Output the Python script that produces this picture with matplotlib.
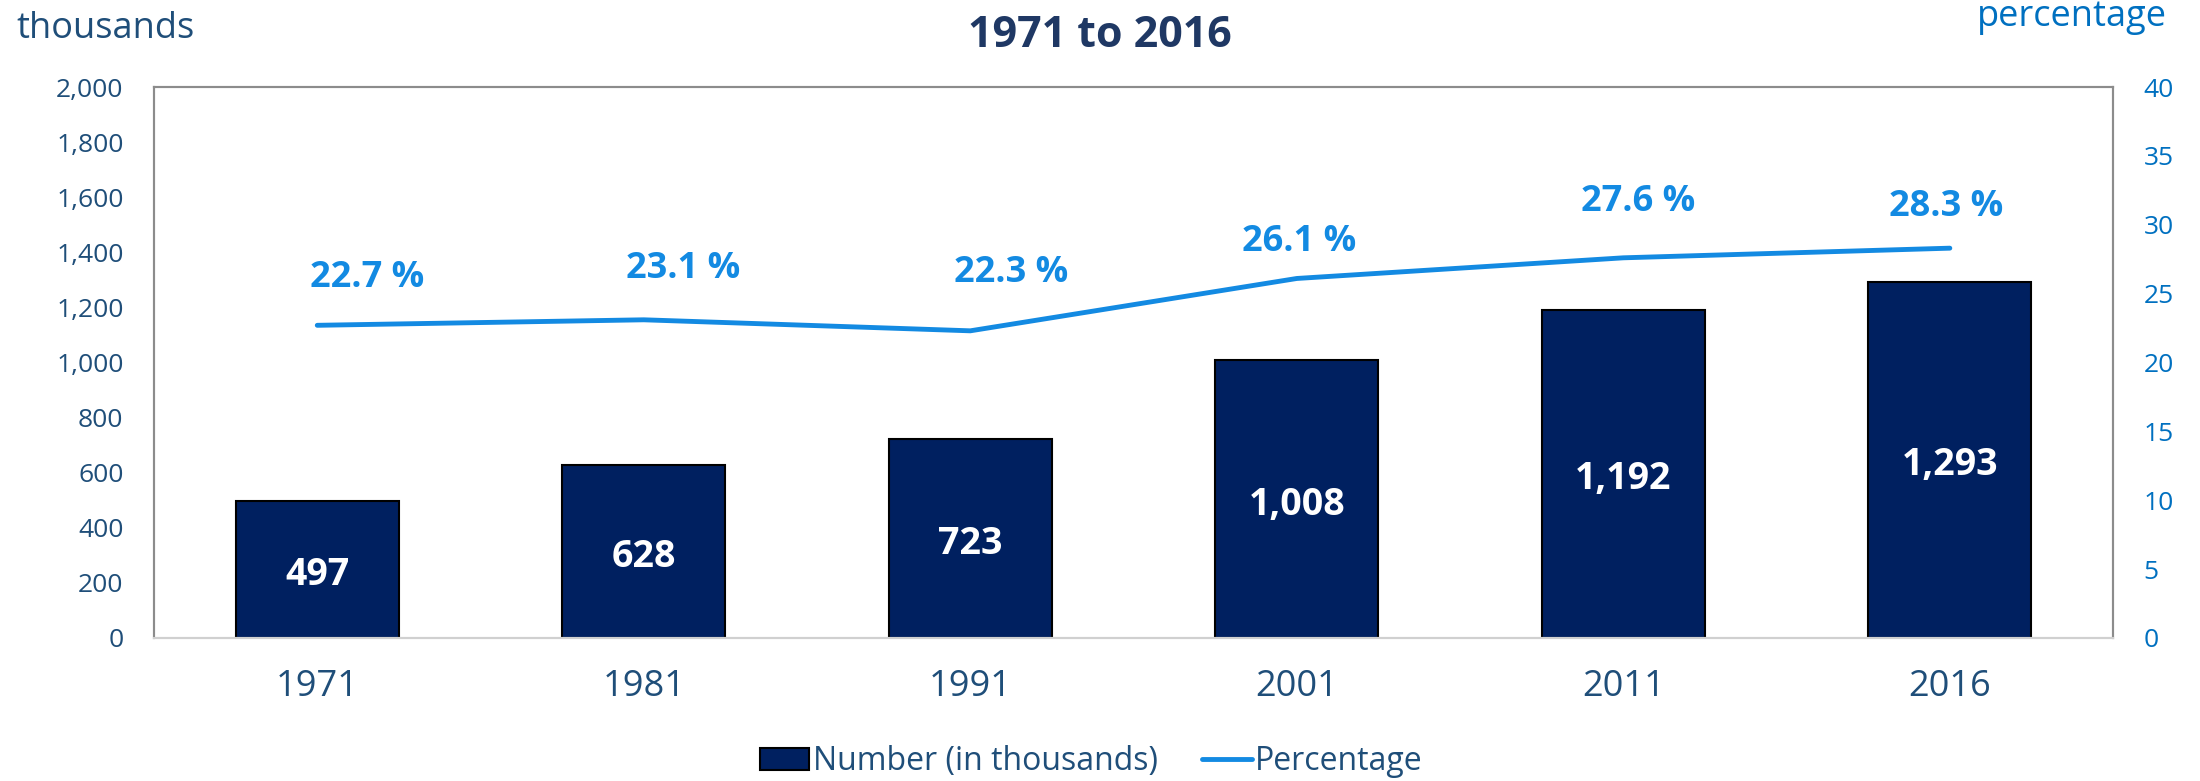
import matplotlib
matplotlib.use("Agg")
import matplotlib.pyplot as plt
from matplotlib.lines import Line2D
from matplotlib.patches import Patch

years = ["1971", "1981", "1991", "2001", "2011", "2016"]
numbers = [497, 628, 723, 1008, 1192, 1293]
percentages = [22.7, 23.1, 22.3, 26.1, 27.6, 28.3]
left_ticks = [0, 200, 400, 600, 800, 1000, 1200, 1400, 1600, 1800, 2000]
right_ticks = [0, 5, 10, 15, 20, 25, 30, 35, 40]

# percentage label placement offsets (pixels) relative to each line point
pct_label_dx = [50, 39, 41, 2, 15, -4]
pct_label_dy = [52, 56, 63, 41, 61, 46]

FONT = "Open Sans"
plt.rcParams['font.family'] = [FONT, 'DejaVu Sans']

DARK = "#1F4E79"
BLUE_TXT = "#0070C0"
LINE = "#138AE2"
BAR = "#002060"

fig = plt.figure(figsize=(22, 7.81), dpi=100)
ax = fig.add_axes([0.07, 0.1831, 0.8905, 0.7055])
ax2 = ax.twinx()

x = list(range(len(years)))
ax.bar(x, numbers, width=0.5, color=BAR, edgecolor="black", linewidth=1.5, zorder=2)
ax.set_xlim(-0.5, len(years) - 0.5)
ax.set_ylim(0, 2000)
ax.set_yticks(left_ticks)
ax.set_yticklabels([f"{v:,}" for v in left_ticks])
ax.set_xticks(x)
ax.set_xticklabels(years)
ax.tick_params(axis="y", length=0, pad=22, labelsize=19, labelcolor=DARK)
ax.tick_params(axis="x", length=0, pad=22, labelsize=26, labelcolor=DARK)

for xi, v in zip(x, numbers):
    ax.annotate(f"{v:,}", (xi, v / 2), xytext=(0, -4), textcoords="offset points",
                ha="center", va="center", color="white",
                fontsize=27, fontweight="bold")

ax2.plot(x, percentages, color=LINE, linewidth=3.5, zorder=3,
         solid_capstyle="round")
ax2.set_ylim(0, 40)
ax2.set_yticks(right_ticks)
ax2.tick_params(axis="y", length=0, pad=22, labelsize=19, labelcolor=BLUE_TXT)
for xi, p, dx, dy in zip(x, percentages, pct_label_dx, pct_label_dy):
    ax2.annotate(f"{p} %", (xi, p), xytext=(dx, dy - 14), textcoords="offset pixels",
                 ha="center", va="baseline", color=LINE, fontsize=26, fontweight="bold")

for a in (ax, ax2):
    for s in a.spines.values():
        s.set_color("#8C8C8C")
        s.set_linewidth(1.5)
    a.spines["bottom"].set_color("#D0D0D0")

fig.text(0.0075, 0.963, "thousands", ha="left", va="center", fontsize=26, color=DARK)
fig.text(0.985, 0.978, "percentage", ha="right", va="center", fontsize=26, color=BLUE_TXT)
fig.text(0.5, 0.955, "1971 to 2016", ha="center", va="center", fontsize=31,
         fontweight="bold", color="#1F3864")

handles = [Patch(facecolor=BAR, edgecolor="black", linewidth=1.5),
           Line2D([0], [0], color=LINE, linewidth=3.5, solid_capstyle="round")]
fig.legend(handles, ["Number (in thousands)", "Percentage"], loc="center",
           bbox_to_anchor=(0.496, 0.025), ncol=2, frameon=False, fontsize=23,
           handlelength=1.55, handletextpad=0.1, columnspacing=1.4,
           labelcolor=DARK)

fig.savefig("out.png", dpi=100)
